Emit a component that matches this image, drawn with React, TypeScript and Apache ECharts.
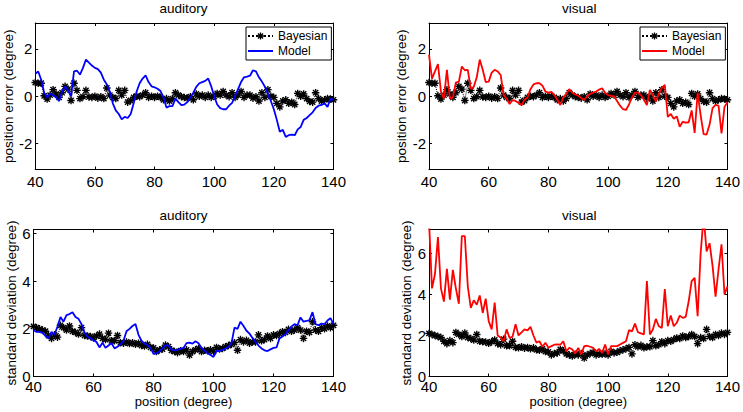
import React, { useEffect, useRef } from 'react';
import * as echarts from 'echarts';

// x positions (degree), one sample per degree from 40 to 140
const positions: number[] = [];
for (let p = 40; p <= 140; p += 1) positions.push(p);

const errorTicks = [-2, 0, 2];
const sdTicks = [0, 2, 4, 6];

// position error (degree) — Bayesian estimate (same in both top panels)
const bayesianError = [
  0.58, 0.55, 0.55, 0.02, -0.12, 0.05, 0.28, 0.1, -0.05, 0.15,
  0.42, 0.3, -0.18, 0.55, 0.25, -0.1, -0.02, 0.25, -0.03, -0.05,
  0.0, -0.08, -0.02, -0.1, 0.35, 0.05, -0.05, -0.1, 0.25, 0.05,
  0.25, -0.25, -0.18, -0.05, 0.0, -0.02, 0.05, 0.15, -0.05, 0.0,
  -0.05, 0.0, -0.05, -0.15, -0.1, -0.2, -0.1, 0.15, 0.05, -0.02,
  -0.05, -0.08, -0.02, -0.15, 0.1, 0.0, 0.05, -0.05, 0.05, -0.05,
  0.0, 0.12, 0.05, 0.2, 0.05, -0.02, 0.15, -0.05, 0.05, 0.2,
  -0.05, 0.05, 0.05, -0.08, -0.02, -0.2, 0.15, -0.05, 0.28, 0.0,
  -0.05, -0.3, -0.45, -0.2, -0.15, -0.3, -0.25, -0.35, 0.12, 0.0,
  0.1, -0.1, -0.22, -0.25, 0.15, -0.1, -0.2, -0.15, -0.1, -0.12,
  -0.15,
];

// position error (degree) — auditory model
const auditoryError = [
  0.95, 1.05, 0.7, 0.15, -0.05, 0.1, 0.05, -0.05, -0.2, 0.2,
  0.42, 0.25, 0.0, 1.05, 1.08, 0.92, 1.2, 1.55, 1.42, 1.3,
  1.2, 1.15, 1.0, 0.7, 0.5, 0.2, -0.3, -0.6, -0.75, -0.98,
  -0.87, -0.92, -0.75, -0.3, 0.2, 0.55, 0.75, 0.88, 0.6, 0.42,
  0.38, 0.32, 0.22, -0.05, -0.48, -0.42, -0.42, -0.1, -0.25, -0.38,
  -0.35, -0.25, -0.05, 0.15, 0.4, 0.55, 0.6, 0.65, 0.75, 0.42,
  0.0, -0.35, -0.5, -0.55, -0.55, -0.4, -0.28, 0.0, 0.3, 0.6,
  0.8, 0.83, 0.87, 1.1, 1.05, 0.8, 0.62, 0.4, 0.1, -0.2,
  -0.55, -1.0, -1.5, -1.42, -1.72, -1.65, -1.62, -1.65, -1.4, -1.3,
  -1.0, -0.92, -0.8, -0.68, -0.5, -0.4, -0.37, -0.3, -0.45, -0.1,
  -0.15,
];

// position error (degree) — visual model
const visualError = [
  1.76, 0.75, 1.05, 1.36, 0.2, -0.1, 1.12, -0.1, -0.05, 0.58,
  0.62, 1.26, 1.1, 1.12, 0.3, 0.4, 0.8, 1.55, 1.12, 0.6,
  0.62, 1.0, 1.12, 1.05, 0.9, 0.06, -0.1, -0.33, -0.16, -0.2,
  -0.28, -0.37, -0.15, -0.05, 0.3, 0.5, 0.55, 0.55, 0.45, 0.2,
  0.15, 0.18, 0.05, -0.15, -0.37, -0.05, 0.1, 0.3, 0.15, 0.08,
  0.02, -0.08, -0.16, 0.0, 0.1, 0.15, 0.2, 0.28, 0.34, 0.15,
  0.05, 0.02, 0.0, -0.2, -0.4, -0.55, -0.58, -0.35, -0.05, 0.15,
  0.15, 0.05, -0.15, -0.37, 0.27, 0.05, -0.23, 0.1, 0.35, 0.48,
  -0.87, -0.75, -0.95, -0.85, -1.29, -1.08, -1.12, -1.1, -0.6, -1.55,
  0.15, -0.8, -1.6, -1.62, -1.2, -0.5, -0.37, -0.4, -1.57, -0.45,
  -0.25,
];

// standard deviation (degree) — Bayesian estimate (same in both bottom panels)
const bayesianSd = [
  2.1, 2.05, 2.0, 1.95, 1.9, 1.72, 1.6, 1.75, 1.65, 2.15,
  2.05, 1.95, 2.12, 1.9, 1.85, 1.78, 2.05, 1.72, 1.7, 1.68,
  1.62, 1.7, 1.78, 1.6, 1.55, 1.82, 1.5, 1.5, 1.72, 1.42,
  1.4, 1.45, 1.38, 1.42, 1.35, 1.4, 1.3, 1.28, 1.35, 1.22,
  1.2, 1.05, 1.12, 1.15, 1.32, 1.25, 1.1, 1.05, 1.0, 1.08,
  1.05, 1.12, 0.9, 1.05, 1.12, 1.18, 1.05, 1.1, 1.08, 1.12,
  1.05, 1.22, 1.15, 1.18, 1.25, 1.3, 1.35, 1.42, 1.1, 1.55,
  1.45, 1.52, 1.4, 1.45, 1.45, 1.75, 1.5, 1.55, 1.7, 1.6,
  1.75, 1.72, 1.8, 1.88, 1.85, 1.98, 1.9, 1.95, 2.05, 1.95,
  1.6, 1.9, 1.85, 2.3, 1.95, 1.9, 2.05, 2.0, 2.12, 2.05,
  2.15,
];

// standard deviation (degree) — auditory model
const auditorySd = [
  1.95, 1.87, 1.87, 1.83, 1.7, 1.6, 1.87, 1.75, 2.1, 2.5,
  2.3, 2.58, 2.62, 2.7, 2.5, 2.42, 2.2, 1.85, 1.68, 1.6,
  1.52, 1.45, 1.22, 1.42, 1.2, 1.3, 1.4, 1.18, 1.25, 1.35,
  1.5, 1.9, 2.0, 2.12, 2.2, 1.75, 1.5, 1.38, 1.32, 1.2,
  0.95, 0.97, 1.05, 1.18, 1.32, 1.3, 1.12, 1.1, 1.12, 1.17,
  1.2, 1.4, 1.42, 1.38, 1.48, 1.4, 1.2, 1.08, 0.98, 0.9,
  0.82, 1.07, 1.07, 1.12, 1.17, 1.25, 1.4, 2.05, 2.0, 2.3,
  2.12, 1.92, 1.8, 1.62, 1.45, 1.3, 1.18, 1.1, 1.07, 1.14,
  1.2, 1.22, 1.6, 1.68, 1.78, 1.95, 2.1, 2.2, 2.15, 2.48,
  2.3, 2.33, 2.37, 2.7, 2.2, 2.15, 2.22, 2.2, 2.35, 2.45,
  2.2,
];

// standard deviation (degree) — visual model
const visualSd = [
  7.6, 4.3, 5.0, 6.8, 4.3, 3.65, 5.25, 3.75, 5.2, 4.3,
  3.55, 6.85, 6.85, 4.4, 3.35, 3.72, 3.5, 3.95, 3.1, 3.8,
  2.7, 2.3, 3.6, 2.0, 1.9, 1.72, 2.3, 1.88, 1.95, 2.55,
  2.0, 2.15, 2.3, 2.25, 2.42, 2.0, 1.65, 1.72, 1.45, 1.65,
  1.4, 1.48, 1.55, 1.56, 1.55, 1.72, 1.23, 1.4, 1.32, 1.12,
  1.4, 1.07, 1.48, 1.5, 1.45, 1.4, 1.23, 1.35, 1.15, 1.56,
  1.07, 1.48, 1.48, 1.48, 1.56, 1.64, 1.72, 2.26, 2.2, 2.58,
  2.16, 2.1, 2.05, 4.65, 2.05, 2.29, 2.81, 2.45, 2.37, 4.27,
  2.45, 2.97, 2.45, 2.62, 2.97, 2.86, 2.91, 3.67, 4.65, 4.81,
  2.94, 6.0, 7.8, 6.1, 6.5, 5.4, 3.89, 5.22, 6.45, 4.0,
  4.4,
];

const FONT = "'Liberation Sans', Arial, Helvetica, sans-serif";
const AXIS = '#000';
const ASTERISK =
  'path://M-0.9,-5L0.9,-5L0.9,5L-0.9,5Z M-5,-0.9L5,-0.9L5,0.9L-5,0.9Z M-4.2,-2.9L-2.9,-4.2L4.2,2.9L2.9,4.2Z M4.2,-2.9L-2.9,4.2L-4.2,2.9L2.9,-4.2Z';

const panels = [
  {
    left: 33.5, top: 23, width: 300, height: 146.5, yMin: -3.1, yMax: 3.1, yTicks: errorTicks,
    yName: 'position error (degree)', xName: '', title: 'auditory', bayes: bayesianError,
    model: auditoryError, color: '#0000ff', suffix: '', xLabelMargin: 4,
  },
  {
    left: 429, top: 23, width: 300.5, height: 146.5, yMin: -3.1, yMax: 3.1, yTicks: errorTicks,
    yName: 'position error (degree)', xName: '', title: 'visual', bayes: bayesianError,
    model: visualError, color: '#ff0000', suffix: '_v', xLabelMargin: 4,
  },
  {
    left: 33.5, top: 229.5, width: 300, height: 147, yMin: 0, yMax: 6.17, yTicks: sdTicks,
    yName: 'standard deviation (degree)', xName: 'position (degree)', title: 'auditory', bayes: bayesianSd,
    model: auditorySd, color: '#0000ff', suffix: '_sdA', xLabelMargin: 2,
  },
  {
    left: 429, top: 229.5, width: 300.5, height: 147, yMin: 0, yMax: 7.17, yTicks: sdTicks,
    yName: 'standard deviation (degree)', xName: 'position (degree)', title: 'visual', bayes: bayesianSd,
    model: visualSd, color: '#ff0000', suffix: '_sdV', xLabelMargin: 2,
  },
];

export default function App() {
  const ref = useRef<HTMLDivElement>(null);

  useEffect(() => {
    if (!ref.current) return;
    const chart = echarts.init(ref.current, undefined, { renderer: 'svg' });

    const grid: any[] = [];
    const xAxis: any[] = [];
    const yAxis: any[] = [];
    const series: any[] = [];
    const graphic: any[] = [];

    panels.forEach((p, i) => {
      grid.push({ left: p.left, top: p.top, width: p.width, height: p.height, containLabel: false });
      const xBase = {
        type: 'value', gridIndex: i, min: 40, max: 140, interval: 20,
        axisLine: { show: true, onZero: false, lineStyle: { color: AXIS, width: 1 } },
        axisTick: { show: true, inside: true, length: 3, lineStyle: { color: AXIS } },
        splitLine: { show: false },
      };
      xAxis.push({
        ...xBase, position: 'bottom',
        axisLabel: { show: true, margin: p.xLabelMargin, fontSize: 15, color: '#000', fontFamily: FONT },
        name: p.xName, nameLocation: 'middle', nameGap: 18,
        nameTextStyle: { fontSize: 13, color: '#000', fontFamily: FONT },
      });
      xAxis.push({ ...xBase, position: 'top', axisLabel: { show: false } });

      const yBase = {
        type: 'value', gridIndex: i, min: p.yMin, max: p.yMax,
        axisLine: { show: true, onZero: false, lineStyle: { color: AXIS, width: 1 } },
        axisTick: { show: true, inside: true, length: 3, customValues: p.yTicks, lineStyle: { color: AXIS } },
        splitLine: { show: false },
      };
      yAxis.push({
        ...yBase, position: 'left',
        axisLabel: { show: true, customValues: p.yTicks, margin: 3, fontSize: 15, color: '#000', fontFamily: FONT },
        name: p.yName, nameLocation: 'middle', nameGap: 14,
        nameTextStyle: { fontSize: 13.5, color: '#000', fontFamily: FONT },
      });
      yAxis.push({ ...yBase, position: 'right', axisLabel: { show: false } });

      series.push({
        type: 'line', name: 'Bayesian' + p.suffix, xAxisIndex: 2 * i, yAxisIndex: 2 * i,
        data: positions.map((x, k) => [x, p.bayes[k]]),
        symbol: ASTERISK, symbolSize: 7.5, showSymbol: true, showAllSymbol: true,
        itemStyle: { color: '#000' },
        lineStyle: { color: '#000', width: 1, type: 'dotted' },
        z: 2, silent: true,
      });
      series.push({
        type: 'line', name: 'Model' + p.suffix, xAxisIndex: 2 * i, yAxisIndex: 2 * i,
        data: positions.map((x, k) => [x, p.model[k]]),
        symbol: 'none', showSymbol: false,
        itemStyle: { color: p.color },
        lineStyle: { color: p.color, width: 1.8 },
        z: 3, silent: true,
      });

      graphic.push({
        type: 'text', x: p.left + p.width / 2, y: p.top - 14.5,
        style: { text: p.title, font: `13.5px ${FONT}`, fill: '#000', textAlign: 'center', textVerticalAlign: 'middle' },
      });
    });

    const legendBase = {
      orient: 'vertical', top: 27, itemWidth: 25, itemHeight: 9, itemGap: 1,
      padding: [2, 4, 2, 1], borderColor: '#000', borderWidth: 1, backgroundColor: '#fff',
      textStyle: { fontSize: 12, fontFamily: FONT, color: '#000', lineHeight: 14 },
      selectedMode: false,
    };
    const hiddenSymbol = { opacity: 0, borderWidth: 0 };

    chart.setOption({
      animation: false,
      backgroundColor: '#fff',
      grid, xAxis, yAxis, series, graphic,
      legend: [
        {
          ...legendBase, left: 246,
          data: [{ name: 'Bayesian' }, { name: 'Model', itemStyle: hiddenSymbol }],
        },
        {
          ...legendBase, left: 640,
          data: [{ name: 'Bayesian_v' }, { name: 'Model_v', itemStyle: hiddenSymbol }],
          formatter: (n: string) => n.replace('_v', ''),
        },
      ],
    });

    return () => chart.dispose();
  }, []);

  return (
    <div
      ref={ref}
      style={{ position: 'fixed', left: 0, top: 0, width: 743, height: 412, background: '#fff' }}
    />
  );
}
